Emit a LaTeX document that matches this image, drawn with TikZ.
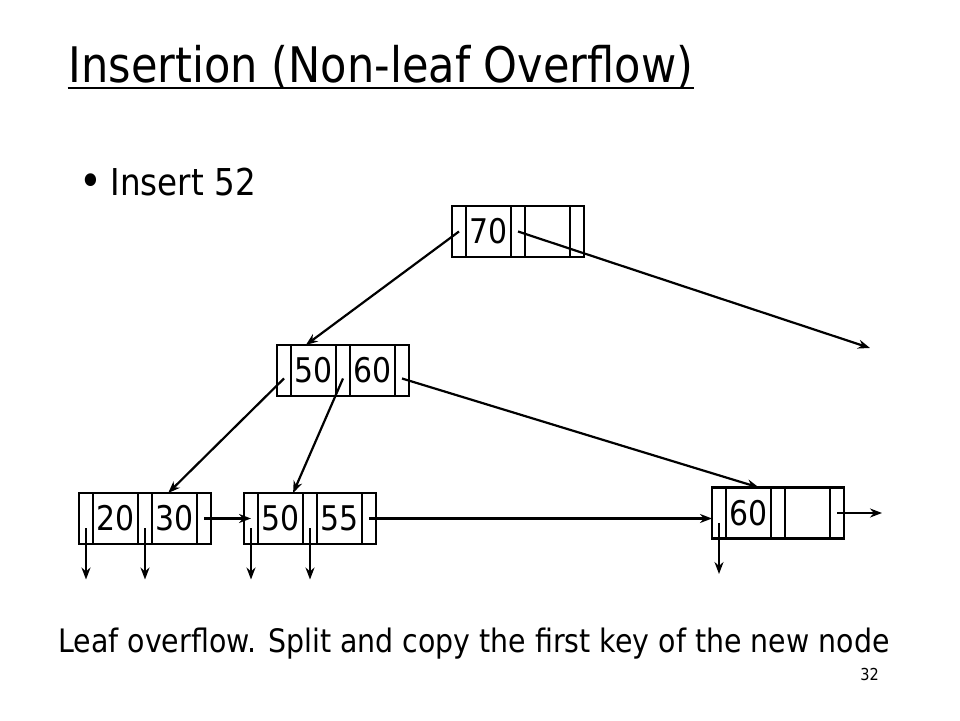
\documentclass[tikz,border=0pt]{standalone}
\usepackage{fontspec}
\setmainfont[FakeStretch=0.88]{DejaVu Sans}
\usetikzlibrary{arrows.meta, calc, positioning}

% one B+-tree node: name, west point, first key, second key
\newcommand{\bpnode}[4]{%
	\node[ptr, anchor=west] (#1-p0) at (#2) {};
	\node[key, right=0pt of #1-p0] (#1-k1) {#3};
	\node[ptr, right=0pt of #1-k1] (#1-p1) {};
	\node[key, right=0pt of #1-p1] (#1-k2) {#4};
	\node[ptr, right=0pt of #1-k2] (#1-p2) {};
}

\begin{document}
\begin{tikzpicture}[x=1pt, y=1pt, >={Stealth[length=12pt, width=9pt]},
	line width=2.4pt, line join=miter,
	ptr/.style={draw, minimum width=14pt, minimum height=51pt, inner sep=0pt, outer sep=0pt},
	key/.style={ptr, minimum width=45pt, font=\fontsize{34}{36}\selectfont},
	arr/.style={->, line width=2.2pt}]

\useasboundingbox (0,0) rectangle (960,720);

% ===== Heading =====
\node[anchor=base west, inner sep=0pt, font=\fontsize{49}{54}\selectfont]
	(title) at (67.5,637.7) {Insertion (Non-leaf Overflow)};
\draw[line width=2.4pt] ([yshift=-6pt]title.base west) -- ([yshift=-6pt]title.base east);

\node[inner sep=0pt, font=\fontsize{44}{46}\selectfont] (bullet) at (91,535) {\textbullet};
\node[anchor=base west, inner sep=0pt, font=\fontsize{37}{40}\selectfont]
	(insert) at (109.5,524.3) {Insert 52};

% ===== Tree =====
\bpnode{R}{452,488.5}{70}{}
\bpnode{M}{277,349.5}{50}{60}
\bpnode{A}{79,201.5}{20}{30}
\bpnode{B}{244,201.5}{50}{55}
\bpnode{C}{712,207}{60}{}

\coordinate (Rout) at (870,372);
\coordinate (Cout) at (882,207);

% inner pointers
\draw[arr] (R-p0.center) -- ($(M-k1.north west)!0.33!(M-k1.north east)$);
\draw[arr] (R-p1.center) -- (Rout);
\draw[arr] ([yshift=-8pt]M-p0.center) -- ($(A-k2.north west)!0.36!(A-k2.north east)$);
\draw[arr] ([yshift=-8pt]M-p1.center) -- ($(B-k1.north west)!0.78!(B-k1.north east)$);
\draw[arr] ([yshift=-8pt]M-p2.center) -- ($(C-k1.north west)!0.73!(C-k1.north east)$);

% leaf chain
\draw[arr] (A-p2.center) -- (B-p0.center);
\draw[arr] (B-p2.center) -- (B-p2.center -| C-p0.west);
\draw[arr] (C-p2.center) -- (Cout);

% record pointers
\foreach \n in {A-p0, A-p1, B-p0, B-p1, C-p0}
	\draw[arr] ([yshift=-10pt]\n.center) -- ++(0,-51);

% ===== Caption =====
\node[anchor=base west, inner sep=0pt, font=\fontsize{32.3}{36}\selectfont]
	(caption) at (57.3,67.7) {Leaf overflow. Split and copy the first key of the new node};
\node[anchor=base east, inner sep=0pt, font=\fontsize{16.5}{18}\selectfont]
	(page) at (880,40) {32};

\end{tikzpicture}
\end{document}
